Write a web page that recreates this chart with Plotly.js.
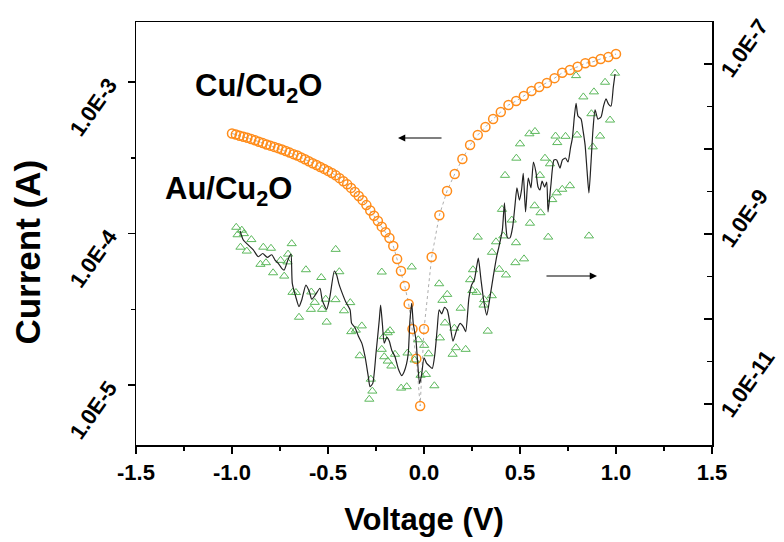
<!DOCTYPE html>
<html>
<head>
<meta charset="utf-8">
<script src="https://cdn.plot.ly/plotly-3.0.1.min.js"></script>
<style>html,body{margin:0;padding:0;background:#fff;}#chart{width:784px;height:542px;}</style>
</head>
<body>
<div id="chart"></div>
<script>
// Cu/Cu2O (left axis, A)
const vCu = [-1.00,-0.98,-0.96,-0.94,-0.92,-0.90,-0.88,-0.86,-0.84,-0.82,-0.80,-0.78,-0.76,-0.74,-0.72,-0.70,-0.68,-0.66,-0.64,-0.62,-0.60,-0.58,-0.56,-0.54,-0.52,-0.50,-0.48,-0.46,-0.44,-0.42,-0.40,-0.38,-0.36,-0.34,-0.32,-0.30,-0.28,-0.26,-0.24,-0.22,-0.20,-0.18,-0.16,-0.14,-0.12,-0.10,-0.08,-0.06,-0.04,-0.02,0.00,0.04,0.08,0.12,0.16,0.20,0.24,0.28,0.32,0.36,0.40,0.44,0.48,0.52,0.56,0.60,0.64,0.68,0.72,0.76,0.80,0.84,0.88,0.92,0.96,1.00];
const iCu = [4.57e-4,4.50e-4,4.42e-4,4.35e-4,4.28e-4,4.20e-4,4.12e-4,4.03e-4,3.95e-4,3.87e-4,3.80e-4,3.73e-4,3.66e-4,3.58e-4,3.50e-4,3.42e-4,3.34e-4,3.27e-4,3.18e-4,3.09e-4,3.00e-4,2.91e-4,2.83e-4,2.75e-4,2.67e-4,2.59e-4,2.51e-4,2.42e-4,2.32e-4,2.21e-4,2.11e-4,2.00e-4,1.88e-4,1.77e-4,1.66e-4,1.54e-4,1.42e-4,1.31e-4,1.21e-4,1.11e-4,1.02e-4,9.34e-5,8.27e-5,6.79e-5,5.65e-5,4.50e-5,3.43e-5,2.34e-5,1.49e-5,7.27e-6,2.34e-5,7.0e-5,1.32e-4,1.91e-4,2.47e-4,3.10e-4,3.84e-4,4.47e-4,5.05e-4,5.70e-4,6.34e-4,7.05e-4,7.50e-4,8.09e-4,8.73e-4,9.27e-4,9.85e-4,1.06e-3,1.15e-3,1.20e-3,1.26e-3,1.33e-3,1.36e-3,1.42e-3,1.46e-3,1.53e-3];

// Au/Cu2O measured points (right axis, A)
const vAu = [-0.978,-0.949,-0.971,-0.938,-0.899,-0.956,-0.923,-0.837,-0.797,-0.852,-0.823,-0.786,-0.747,-0.708,-0.711,-0.728,-0.689,-0.685,-0.667,-0.651,-0.615,-0.587,-0.569,-0.589,-0.535,-0.531,-0.512,-0.507,-0.460,-0.441,-0.461,-0.417,-0.384,-0.379,-0.355,-0.324,-0.335,-0.285,-0.277,-0.269,-0.220,-0.210,-0.220,-0.189,-0.177,-0.207,-0.189,-0.170,-0.151,-0.119,-0.090,-0.086,-0.064,-0.030,-0.049,0.001,-0.018,0.010,0.024,0.054,0.079,0.121,0.096,0.109,0.158,0.083,0.166,0.149,0.217,0.191,0.255,0.240,0.252,0.274,0.310,0.314,0.353,0.332,0.280,0.375,0.354,0.392,0.427,0.413,0.422,0.406,0.457,0.479,0.476,0.521,0.549,0.578,0.500,0.481,0.552,0.576,0.607,0.604,0.630,0.656,0.647,0.668,0.691,0.720,0.760,0.685,0.694,0.737,0.797,0.792,0.830,0.885,0.872,0.879,0.917,0.859,0.943,0.969,0.995];
const iAu = [1.20e-9,1.11e-9,9.8e-10,1.01e-9,8.6e-10,7.0e-10,6.3e-10,7.0e-10,6.8e-10,4.4e-10,4.6e-10,3.5e-10,4.9e-10,5.8e-10,4.7e-10,3.2e-10,7.7e-10,2.06e-10,2.05e-10,1.05e-10,3.8e-10,2.08e-10,1.57e-10,1.30e-10,3.08e-10,1.30e-10,1.71e-10,9.2e-11,6.6e-10,3.6e-10,1.69e-10,1.25e-10,1.56e-10,7.1e-11,7.4e-11,8.3e-11,3.7e-11,1.14e-11,1.96e-11,1.42e-11,3.57e-10,6.2e-11,4.4e-11,6.9e-11,7.3e-11,3.6e-11,3.2e-11,2.8e-11,3.85e-11,1.54e-11,1.60e-11,3.98e-11,4.1e-10,5.7e-11,3.3e-11,4.9e-11,2.18e-11,2.23e-11,3.9e-11,1.64e-11,2.6e-10,1.95e-10,1.66e-10,9.0e-11,7.8e-11,6.0e-11,4.6e-11,3.85e-11,4.4e-11,1.34e-10,3.8e-10,2.9e-10,2.16e-10,2.06e-10,1.46e-10,1.69e-10,1.88e-10,7.2e-11,9.2e-10,8.1e-10,6.1e-10,3.85e-10,3.3e-10,9.5e-10,4.9e-9,1.95e-9,1.46e-9,7.9e-10,4.6e-10,5.1e-10,1.51e-8,1.61e-8,1.15e-8,7.8e-9,1.34e-9,2.15e-9,1.78e-9,4.9e-9,7.8e-9,6.7e-9,9.2e-10,2.54e-9,3.05e-9,3.36e-9,3.7e-9,1.42e-8,1.19e-8,1.41e-8,1.46e-8,7.3e-8,4.1e-8,4.7e-8,2.6e-8,1.06e-8,1.42e-8,9.5e-10,6.1e-8,2.19e-8,7.8e-8];

// Au/Cu2O smoothed curve (right axis, A)
const vFit = [-0.958,-0.941,-0.915,-0.889,-0.863,-0.840,-0.816,-0.793,-0.776,-0.759,-0.741,-0.728,-0.715,-0.702,-0.693,-0.686,-0.668,-0.651,-0.637,-0.615,-0.597,-0.585,-0.566,-0.542,-0.530,-0.507,-0.490,-0.467,-0.455,-0.444,-0.429,-0.408,-0.385,-0.377,-0.359,-0.342,-0.324,-0.307,-0.290,-0.281,-0.267,-0.250,-0.233,-0.226,-0.217,-0.207,-0.194,-0.181,-0.168,-0.151,-0.134,-0.116,-0.104,-0.091,-0.082,-0.073,-0.064,-0.056,-0.042,-0.034,-0.023,-0.012,0.000,0.014,0.028,0.043,0.057,0.069,0.079,0.092,0.107,0.121,0.135,0.151,0.170,0.188,0.205,0.217,0.234,0.248,0.262,0.274,0.283,0.297,0.313,0.327,0.344,0.361,0.379,0.391,0.408,0.419,0.426,0.435,0.448,0.462,0.474,0.484,0.497,0.508,0.517,0.529,0.543,0.557,0.570,0.583,0.594,0.604,0.615,0.628,0.639,0.646,0.661,0.677,0.691,0.708,0.721,0.737,0.750,0.763,0.773,0.783,0.792,0.802,0.818,0.828,0.839,0.849,0.859,0.870,0.880,0.891,0.906,0.922,0.935,0.948,0.961,0.974,0.986,0.995];
const iFit = [1.09e-9,8.5e-10,7.4e-10,6.5e-10,5.4e-10,5.9e-10,5.3e-10,5.7e-10,4.94e-10,4.52e-10,3.95e-10,3.77e-10,4.52e-10,5.41e-10,5.82e-10,2.63e-10,1.83e-10,1.40e-10,1.67e-10,2.51e-10,2.10e-10,1.71e-10,1.92e-10,2.30e-10,1.67e-10,1.30e-10,1.83e-10,3.67e-10,3.30e-10,2.63e-10,2.10e-10,1.60e-10,1.28e-10,8.9e-11,7.9e-11,6.3e-11,5.2e-11,3.6e-11,2.1e-11,1.6e-11,1.75e-11,3.95e-11,9.7e-11,1.46e-10,8.9e-11,5.2e-11,6.1e-11,5.5e-11,4.3e-11,3.6e-11,2.6e-11,2.16e-11,2.38e-11,2.96e-11,3.95e-11,9.7e-11,1.53e-10,8.9e-11,5.7e-11,3.3e-11,1.74e-11,2.25e-11,3.5e-11,3.0e-11,2.8e-11,2.63e-11,3.95e-11,7.8e-11,1.28e-10,1.15e-10,1.37e-10,1.28e-10,8.9e-11,5.5e-11,7.4e-11,8.9e-11,8.1e-11,7.1e-11,1.77e-10,2.51e-10,2.88e-10,4.1e-10,5.2e-10,2.88e-10,1.53e-10,1.11e-10,1.83e-10,3.2e-10,5.5e-10,7.2e-10,1.11e-9,2.32e-9,1.28e-9,9.0e-10,9.0e-10,1.22e-9,2.19e-9,3.48e-9,2.51e-9,3.3e-9,5.18e-9,1.82e-9,4.56e-9,3.48e-9,7.03e-9,5.36e-9,3.57e-9,3.3e-9,4.2e-9,3.57e-9,4.09e-9,1.82e-9,3.77e-9,7.43e-9,7.43e-9,5.97e-9,7.43e-9,7.83e-9,7.03e-9,1.03e-8,1.35e-8,2.38e-8,3.45e-8,2.45e-8,2.25e-8,1.67e-8,1.12e-8,5.66e-9,3.04e-9,7.03e-9,1.67e-8,2.88e-8,2.25e-8,2.38e-8,3.2e-8,3.88e-8,3.38e-8,3.2e-8,5.36e-8,7.63e-8];

// tick labels
const xTicks = [-1.5,-1.0,-0.5,0.0,0.5,1.0,1.5];
const xTickText = ['-1.5','-1.0','-0.5','0.0','0.5','1.0','1.5'];
const yTicks = [1e-5,1e-4,1e-3];
const yTickText = ['1.0E-5','1.0E-4','1.0E-3'];
const y2Ticks = [1e-11,1e-10,1e-9,1e-8,1e-7];
const y2TickText = ['1.0E-11','','1.0E-9','','1.0E-7'];

const FONT = 'Liberation Sans, Arial, sans-serif';
const xTickFont = {family: FONT, size: 22, color: '#000', weight: 'bold'};
const yTickFont = {family: FONT, size: 22, color: '#000', weight: 'bold'};

const traces = [
  {x: vAu, y: iAu, yaxis: 'y2', type: 'scatter', mode: 'markers',
   marker: {symbol: 'triangle-up-open', size: 8, color: '#5cb85c', line: {width: 1, color: '#5cb85c'}},
   hoverinfo: 'skip', showlegend: false},
  {x: vFit, y: iFit, yaxis: 'y2', type: 'scatter', mode: 'lines',
   line: {color: '#222', width: 1.2, shape: 'spline', smoothing: 0.6},
   hoverinfo: 'skip', showlegend: false},
  {x: vCu, y: iCu, yaxis: 'y', type: 'scatter', mode: 'lines+markers',
   line: {color: '#999', width: 0.8, dash: 'dot'},
   marker: {symbol: 'circle-open', size: 9, color: '#FF8C1A', line: {width: 1.5, color: '#FF8C1A'}},
   hoverinfo: 'skip', showlegend: false}
];

const layout = {
  width: 784, height: 542,
  margin: {l: 136, r: 72, t: 22, b: 97},
  paper_bgcolor: '#fff', plot_bgcolor: '#fff',
  showlegend: false,
  xaxis: {
    range: [-1.5, 1.5], tickmode: 'array', tickvals: xTicks, ticktext: xTickText,
    ticks: 'outside', ticklen: 7, tickwidth: 1.5, tickcolor: '#000',
    minor: {dtick: 0.25, tick0: 0, ticks: 'outside', ticklen: 4, tickwidth: 1.5, tickcolor: '#000'},
    showline: true, linecolor: '#000', linewidth: 1.5, mirror: true,
    showgrid: false, zeroline: false, tickfont: xTickFont,
    title: {text: 'Voltage (V)', font: {family: FONT, size: 31, color: '#000', weight: 'bold'}, standoff: 24}
  },
  yaxis: {
    type: 'log', range: [-5.396, -2.604], tickmode: 'array', tickvals: yTicks, ticktext: yTickText,
    ticks: 'outside', ticklen: 7, tickwidth: 1.5, tickcolor: '#000', tickangle: -55,
    ticklabelstandoff: 14, ticklabeloverflow: 'allow',
    minor: {tickvals: [Math.pow(10,-4.5), Math.pow(10,-3.5)], ticks: 'outside', ticklen: 4, tickwidth: 1.5, tickcolor: '#000'},
    showline: true, linecolor: '#000', linewidth: 1.5,
    showgrid: false, zeroline: false, tickfont: yTickFont
  },
  yaxis2: {
    type: 'log', range: [-11.482, -6.506], overlaying: 'y', side: 'right',
    tickmode: 'array', tickvals: y2Ticks, ticktext: y2TickText,
    ticks: 'inside', ticklen: 8, tickwidth: 1.5, tickcolor: '#000', tickangle: -55,
    ticklabelstandoff: 5, ticklabelshift: 12, ticklabeloverflow: 'allow',
    minor: {tickvals: [Math.pow(10,-10.5), Math.pow(10,-9.5), Math.pow(10,-8.5), Math.pow(10,-7.5)], ticks: 'inside', ticklen: 5, tickwidth: 1.5, tickcolor: '#000'},
    showline: true, linecolor: '#000', linewidth: 1.5,
    showgrid: false, zeroline: false, tickfont: yTickFont
  },
  annotations: [
    {xref: 'paper', yref: 'paper', x: -0.1875, y: 0.455, text: 'Current (A)', showarrow: false, textangle: -90,
     xanchor: 'center', yanchor: 'middle', font: {family: FONT, size: 35, color: '#000', weight: 'bold'}},
    {xref: 'paper', yref: 'paper', x: 0.212, y: 0.845, text: 'Cu/Cu<sub>2</sub>O', showarrow: false,
     xanchor: 'center', yanchor: 'middle', font: {family: FONT, size: 31, color: '#000', weight: 'bold'}},
    {xref: 'paper', yref: 'paper', x: 0.160, y: 0.600, text: 'Au/Cu<sub>2</sub>O', showarrow: false,
     xanchor: 'center', yanchor: 'middle', font: {family: FONT, size: 31, color: '#000', weight: 'bold'}},
    {xref: 'paper', yref: 'paper', x: 0.4549, y: 0.7258, ax: 45, ay: 0, text: '', showarrow: true,
     arrowhead: 2, arrowsize: 1.2, arrowwidth: 1.2, arrowcolor: '#000'},
    {xref: 'paper', yref: 'paper', x: 0.8003, y: 0.3995, ax: -52, ay: 0, text: '', showarrow: true,
     arrowhead: 2, arrowsize: 1.2, arrowwidth: 1.2, arrowcolor: '#000'}
  ]
};

Plotly.newPlot('chart', traces, layout, {staticPlot: true, displayModeBar: false});
</script>
</body>
</html>
